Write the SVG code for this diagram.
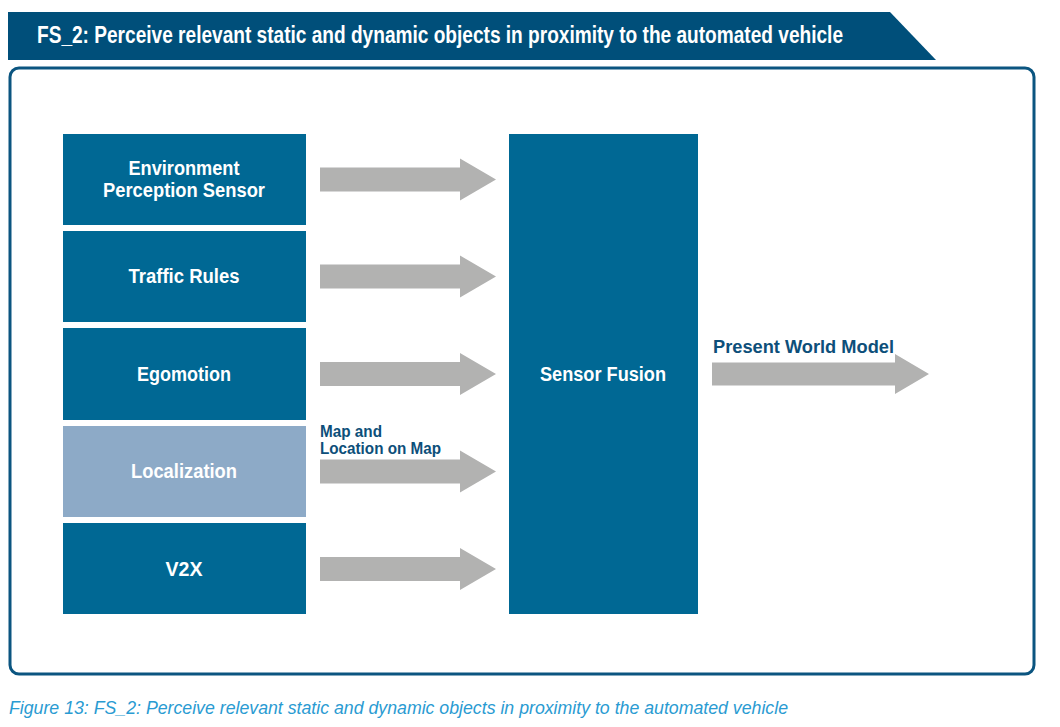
<svg xmlns="http://www.w3.org/2000/svg" width="1060" height="727" viewBox="0 0 1060 727">
<defs>
<style>
.node{fill:#006894;}
.light{fill:#8daac7;}
.nt{font-family:"Liberation Sans",Arial,sans-serif;font-weight:bold;font-size:20px;fill:#ffffff;text-anchor:middle;}
.lbl{font-family:"Liberation Sans",Arial,sans-serif;font-weight:bold;fill:#0d4f7a;}
.arr{fill:#b2b2b1;}
</style>
<path id="arrowShape" d="M0,-12 H140 V-21 L176,0 L140,21 V12 H0 Z"/>
</defs>
<rect width="1060" height="727" fill="#ffffff"/>
<polygon points="8,12 890,12 936,60 8,60" fill="#004f7a"/>
<text x="37" y="43" font-family="Liberation Sans,Arial,sans-serif" font-weight="bold" font-size="23" fill="#ffffff" textLength="806" lengthAdjust="spacingAndGlyphs">FS_2: Perceive relevant static and dynamic objects in proximity to the automated vehicle</text>
<rect x="10" y="68" width="1024" height="606" rx="9" ry="9" fill="none" stroke="#0b5580" stroke-width="3"/>
<g id="connectors">
<use href="#arrowShape" class="arr" x="320" y="179.5"/>
<use href="#arrowShape" class="arr" x="320" y="276.5"/>
<use href="#arrowShape" class="arr" x="320" y="374"/>
<use href="#arrowShape" class="arr" x="320" y="471.5"/>
<use href="#arrowShape" class="arr" x="320" y="569"/>
<path class="arr" d="M712,362.5 H895 V354 L929,374 L895,394 V385.5 H712 Z"/>
<text class="lbl" x="320" y="437" font-size="16" textLength="62" lengthAdjust="spacingAndGlyphs">Map and</text>
<text class="lbl" x="320" y="454" font-size="16" textLength="121" lengthAdjust="spacingAndGlyphs">Location on Map</text>
<text class="lbl" x="713" y="353" font-size="19" textLength="181" lengthAdjust="spacingAndGlyphs">Present World Model</text>
</g>
<g id="node-env">
<rect class="node" x="63" y="134" width="243" height="91"/>
<text class="nt" x="184" y="175" textLength="111" lengthAdjust="spacingAndGlyphs">Environment</text>
<text class="nt" x="184" y="197" textLength="162" lengthAdjust="spacingAndGlyphs">Perception Sensor</text>
</g>
<g id="node-traffic">
<rect class="node" x="63" y="231" width="243" height="91"/>
<text class="nt" x="184" y="283" textLength="111" lengthAdjust="spacingAndGlyphs">Traffic Rules</text>
</g>
<g id="node-ego">
<rect class="node" x="63" y="328" width="243" height="92"/>
<text class="nt" x="184" y="381" textLength="94" lengthAdjust="spacingAndGlyphs">Egomotion</text>
</g>
<g id="node-loc">
<rect class="light" x="63" y="426" width="243" height="91"/>
<text class="nt" x="184" y="478" textLength="106" lengthAdjust="spacingAndGlyphs">Localization</text>
</g>
<g id="node-v2x">
<rect class="node" x="63" y="523" width="243" height="91"/>
<text class="nt" x="184" y="576" textLength="37" lengthAdjust="spacingAndGlyphs">V2X</text>
</g>
<g id="node-fusion">
<rect class="node" x="509" y="134" width="189" height="480"/>
<text class="nt" x="603" y="381" textLength="126" lengthAdjust="spacingAndGlyphs">Sensor Fusion</text>
</g>
<text x="9" y="714" font-family="Liberation Sans,Arial,sans-serif" font-style="italic" font-size="18" fill="#2a9bd2" textLength="779" lengthAdjust="spacingAndGlyphs">Figure 13: FS_2: Perceive relevant static and dynamic objects in proximity to the automated vehicle</text>
</svg>
